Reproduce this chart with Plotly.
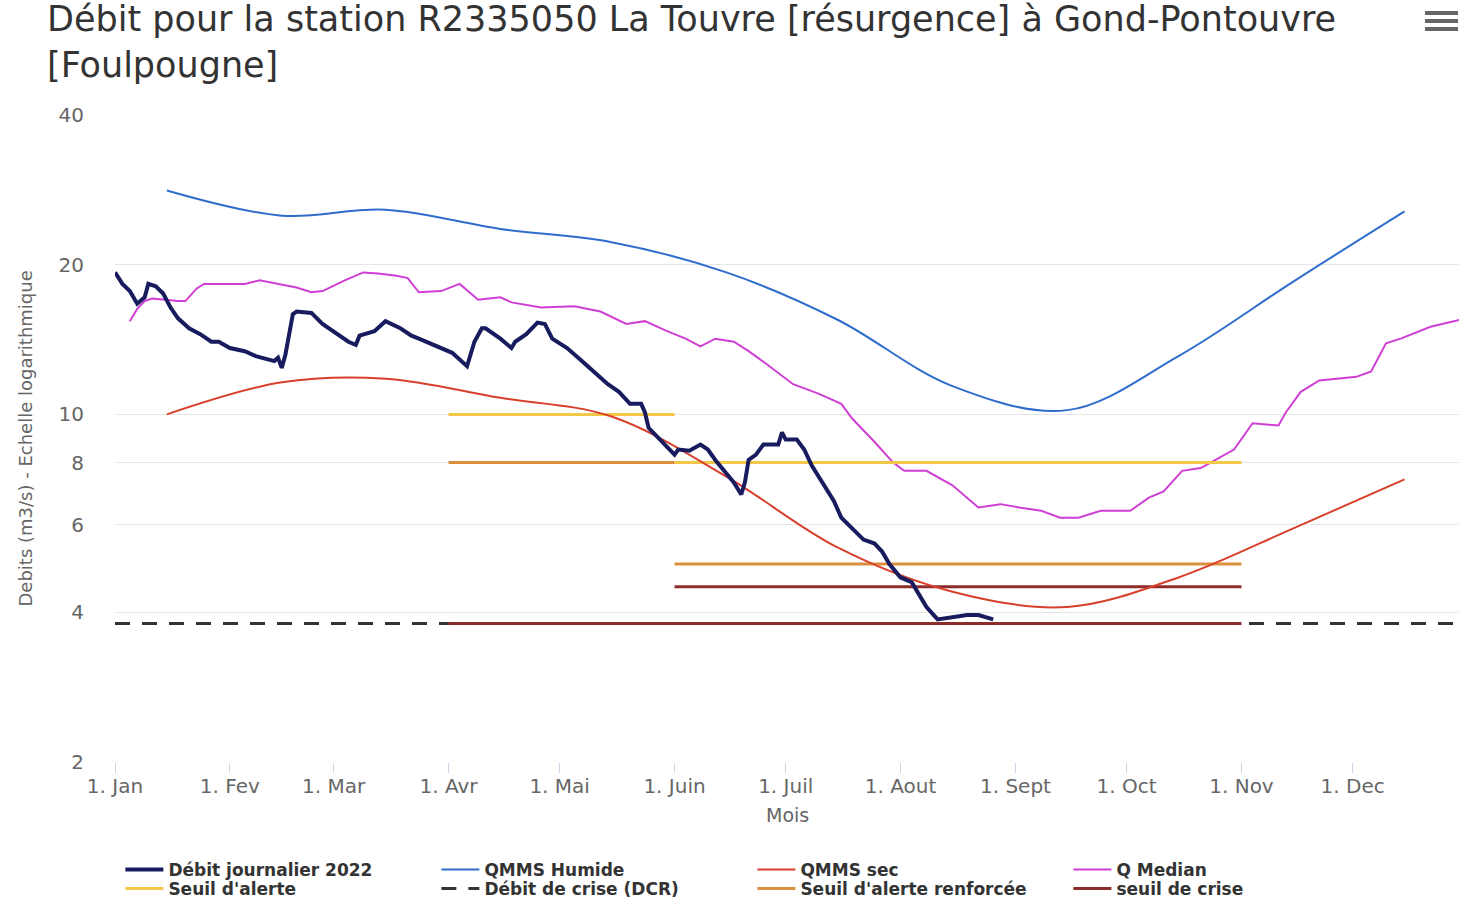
import plotly.graph_objects as go

# ---------------- data ----------------
mois_milieu = ["2022-01-15", "2022-02-15", "2022-03-15", "2022-04-15", "2022-05-15", "2022-06-15",
               "2022-07-15", "2022-08-15", "2022-09-15", "2022-10-15", "2022-11-15", "2022-12-15"]
qmms_humide = [28.2, 25.1, 25.8, 23.6, 22.2, 19.3, 15.5, 11.4, 10.2, 13.1, 18.5, 25.6]
qmms_sec = [10.0, 11.6, 11.8, 10.8, 9.9, 7.5, 5.4, 4.4, 4.1, 4.7, 5.9, 7.4]

debit_dates = [
    "2022-01-01", "2022-01-03", "2022-01-05", "2022-01-07", "2022-01-09", "2022-01-10", "2022-01-12",
    "2022-01-14", "2022-01-16", "2022-01-18", "2022-01-21", "2022-01-24", "2022-01-27", "2022-01-29",
    "2022-02-01", "2022-02-05", "2022-02-08", "2022-02-13", "2022-02-14", "2022-02-15", "2022-02-16",
    "2022-02-18", "2022-02-19", "2022-02-23", "2022-02-26",
    "2022-03-02", "2022-03-05", "2022-03-07", "2022-03-08", "2022-03-12", "2022-03-15", "2022-03-19",
    "2022-03-22", "2022-03-24", "2022-03-30",
    "2022-04-02", "2022-04-06", "2022-04-08", "2022-04-10", "2022-04-11", "2022-04-15", "2022-04-18",
    "2022-04-19", "2022-04-22", "2022-04-25", "2022-04-27", "2022-04-29",
    "2022-05-03", "2022-05-07", "2022-05-10", "2022-05-14", "2022-05-17", "2022-05-20", "2022-05-23",
    "2022-05-24", "2022-05-25", "2022-05-28",
    "2022-06-01", "2022-06-02", "2022-06-05", "2022-06-08", "2022-06-10", "2022-06-12", "2022-06-17",
    "2022-06-19", "2022-06-20", "2022-06-21", "2022-06-23", "2022-06-25", "2022-06-29", "2022-06-30",
    "2022-07-01", "2022-07-04", "2022-07-06", "2022-07-08", "2022-07-11", "2022-07-14", "2022-07-16",
    "2022-07-19", "2022-07-22", "2022-07-25", "2022-07-27", "2022-07-29",
    "2022-08-01", "2022-08-04", "2022-08-06", "2022-08-08", "2022-08-11", "2022-08-14", "2022-08-16",
    "2022-08-19", "2022-08-22", "2022-08-26",
]
debit_valeurs = [
    19.3, 18.3, 17.7, 16.7, 17.2, 18.3, 18.1,
    17.5, 16.4, 15.6, 14.9, 14.5, 14.0, 14.0,
    13.6, 13.4, 13.1, 12.8, 13.0, 12.4, 13.2,
    15.9, 16.1, 16.0, 15.2,
    14.5, 14.0, 13.8, 14.4, 14.7, 15.4, 14.9,
    14.4, 14.2, 13.6,
    13.3, 12.5, 14.0, 14.9, 14.9, 14.2, 13.6,
    14.0, 14.5, 15.3, 15.2, 14.2,
    13.6, 12.8, 12.2, 11.5, 11.1, 10.5, 10.5,
    10.1, 9.4, 8.9,
    8.3, 8.5, 8.45, 8.7, 8.5, 8.1, 7.3,
    6.9, 7.3, 8.1, 8.3, 8.7, 8.7, 9.2,
    8.9, 8.9, 8.5, 7.9, 7.3, 6.7, 6.2,
    5.9, 5.6, 5.5, 5.3, 5.0,
    4.7, 4.6, 4.35, 4.1, 3.87, 3.9, 3.93,
    3.95, 3.95, 3.87,
]

median_dates = [
    "2022-01-05", "2022-01-07", "2022-01-09", "2022-01-11", "2022-01-18", "2022-01-20", "2022-01-23",
    "2022-01-25", "2022-01-31",
    "2022-02-05", "2022-02-09", "2022-02-14", "2022-02-19", "2022-02-23", "2022-02-26",
    "2022-03-04", "2022-03-09", "2022-03-13", "2022-03-18", "2022-03-21", "2022-03-24", "2022-03-30",
    "2022-04-04", "2022-04-09", "2022-04-15", "2022-04-18", "2022-04-26",
    "2022-05-05", "2022-05-12", "2022-05-19", "2022-05-24", "2022-05-30",
    "2022-06-04", "2022-06-08", "2022-06-12", "2022-06-17", "2022-06-21", "2022-06-26",
    "2022-07-03", "2022-07-10", "2022-07-16", "2022-07-19", "2022-07-25", "2022-07-30",
    "2022-08-02", "2022-08-08", "2022-08-15", "2022-08-22", "2022-08-28",
    "2022-09-02", "2022-09-08", "2022-09-13", "2022-09-18", "2022-09-24",
    "2022-10-02", "2022-10-07", "2022-10-11", "2022-10-16", "2022-10-21", "2022-10-25", "2022-10-30",
    "2022-11-04", "2022-11-11", "2022-11-13", "2022-11-17", "2022-11-22",
    "2022-12-02", "2022-12-06", "2022-12-10", "2022-12-14", "2022-12-17", "2022-12-22", "2022-12-30",
]
median_valeurs = [
    15.4, 16.3, 16.9, 17.1, 16.9, 16.9, 17.9,
    18.3, 18.3,
    18.3, 18.6, 18.3, 18.0, 17.6, 17.7,
    18.6, 19.3, 19.2, 19.0, 18.8, 17.6, 17.7,
    18.3, 17.0, 17.2, 16.8, 16.4,
    16.5, 16.1, 15.2, 15.4, 14.7,
    14.2, 13.7, 14.2, 14.0, 13.4, 12.6,
    11.5, 11.0, 10.5, 9.8, 8.8, 8.0,
    7.7, 7.7, 7.2, 6.5, 6.6,
    6.5, 6.4, 6.2, 6.2, 6.4,
    6.4, 6.8, 7.0, 7.7, 7.8, 8.1, 8.5,
    9.6, 9.5, 10.1, 11.1, 11.7,
    11.9, 12.2, 13.9, 14.2, 14.5, 15.0, 15.5,
]

# threshold segments: (start, end, value)
seuil_alerte = [("2022-04-01", "2022-06-01", 10.0), ("2022-06-01", "2022-11-01", 8.0)]
seuil_renforce = [("2022-04-01", "2022-06-01", 8.0), ("2022-06-01", "2022-11-01", 5.0)]
seuil_crise = [("2022-04-01", "2022-11-01", 3.8), ("2022-06-01", "2022-11-01", 4.5)]
debit_crise = [("2022-01-01", "2022-12-31", 3.8)]

mois_ticks = ["2022-01-01", "2022-02-01", "2022-03-01", "2022-04-01", "2022-05-01", "2022-06-01",
              "2022-07-01", "2022-08-01", "2022-09-01", "2022-10-01", "2022-11-01", "2022-12-01"]
mois_labels = ["1. Jan", "1. Fev", "1. Mar", "1. Avr", "1. Mai", "1. Juin",
               "1. Juil", "1. Aout", "1. Sept", "1. Oct", "1. Nov", "1. Dec"]
y_ticks = [2, 4, 6, 8, 10, 20, 40]

titre = "Débit pour la station R2335050 La Touvre [résurgence] à Gond-Pontouvre<br>[Foulpougne]"


def segs(segments):
    xs, ys = [], []
    for i, (a, b, v) in enumerate(segments):
        if i:
            xs.append(None)
            ys.append(None)
        xs += [a, b]
        ys += [v, v]
    return xs, ys


FONT = "DejaVu Sans"
fig = go.Figure()

fig.add_trace(go.Scatter(x=debit_dates, y=debit_valeurs, mode="lines", name="Débit journalier 2022",
                         line=dict(color="#181b5e", width=4), zorder=10, legend="legend"))
fig.add_trace(go.Scatter(x=mois_milieu, y=qmms_humide, mode="lines", name="QMMS Humide",
                         line=dict(color="#2f6dcc", width=2, shape="spline", smoothing=1), legend="legend"))
fig.add_trace(go.Scatter(x=mois_milieu, y=qmms_sec, mode="lines", name="QMMS sec",
                         line=dict(color="#d8402c", width=2, shape="spline", smoothing=1), zorder=2,
                         legend="legend"))
fig.add_trace(go.Scatter(x=median_dates, y=median_valeurs, mode="lines", name="Q Median",
                         line=dict(color="#d03fd4", width=2), legend="legend"))
x, y = segs(seuil_alerte)
fig.add_trace(go.Scatter(x=x, y=y, mode="lines", name="Seuil d'alerte",
                         line=dict(color="#f3c84a", width=3), legend="legend2"))
x, y = segs(debit_crise)
fig.add_trace(go.Scatter(x=x, y=y, mode="lines", name="Débit de crise (DCR)",
                         line=dict(color="#333333", width=3, dash="15px,12px"), legend="legend2"))
x, y = segs(seuil_renforce)
fig.add_trace(go.Scatter(x=x, y=y, mode="lines", name="Seuil d'alerte renforcée",
                         line=dict(color="#dc8f3c", width=3), legend="legend2"))
x, y = segs(seuil_crise)
fig.add_trace(go.Scatter(x=x, y=y, mode="lines", name="seuil de crise",
                         line=dict(color="#8e2b2b", width=3), legend="legend2"))

legend_style = dict(orientation="h", x=0.004, xanchor="left", yanchor="middle",
                    entrywidth=263, entrywidthmode="pixels", itemwidth=38, tracegroupgap=0,
                    font=dict(family=FONT, size=17, color="#333333", weight="bold"),
                    bgcolor="rgba(0,0,0,0)")

fig.update_layout(
    width=1459, height=898,
    margin=dict(l=115, r=0, t=115, b=136, pad=0, autoexpand=False),
    paper_bgcolor="white", plot_bgcolor="white",
    font=dict(family=FONT, color="#666666"),
    xaxis=dict(type="date", range=["2022-01-01", "2022-12-29 17:00"],
               tickvals=mois_ticks, ticktext=mois_labels,
               showgrid=False, showline=True, linecolor="#ccd6eb", linewidth=1,
               ticks="outside", ticklen=10, tickcolor="#ccd6eb", ticklabelstandoff=-4,
               tickfont=dict(family=FONT, size=20, color="#666666"), zeroline=False),
    yaxis=dict(type="log", range=[0.30103, 1.60206], tickvals=y_ticks,
               ticktext=[str(v) for v in y_ticks],
               showgrid=True, gridcolor="#e6e6e6", gridwidth=1, zeroline=False,
               ticks="", ticklabelstandoff=30,
               tickfont=dict(family=FONT, size=20, color="#666666")),
    showlegend=True,
    legend=dict(legend_style, y=(762 - 870) / 647),
    legend2=dict(legend_style, y=(762 - 889) / 647),
    annotations=[
        dict(text=titre, x=(45 - 115) / 1344, y=(762 + 3) / 647, xref="paper", yref="paper",
             xanchor="left", yanchor="top", align="left", showarrow=False,
             font=dict(family=FONT, size=35, color="#333333")),
        dict(text="Debits (m3/s) - Echelle logarithmique", textangle=-90, x=(25 - 115) / 1344, y=0.5,
             xref="paper", yref="paper", xanchor="center", yanchor="middle", showarrow=False,
             font=dict(family=FONT, size=18, color="#666666")),
        dict(text="Mois", x=0.5, y=(762 - 815) / 647, xref="paper", yref="paper",
             xanchor="center", yanchor="middle", showarrow=False,
             font=dict(family=FONT, size=19, color="#666666")),
    ],
    shapes=[
        dict(type="line", xref="paper", yref="paper", x0=0.9747, x1=0.9993, y0=yy, y1=yy,
             line=dict(color="#666666", width=4))
        for yy in [(762 - 13) / 647, (762 - 21) / 647, (762 - 29) / 647]
    ],
)

fig.write_html("out.html", config={"displayModeBar": False},
               post_script="document.body.style.margin='0';")
